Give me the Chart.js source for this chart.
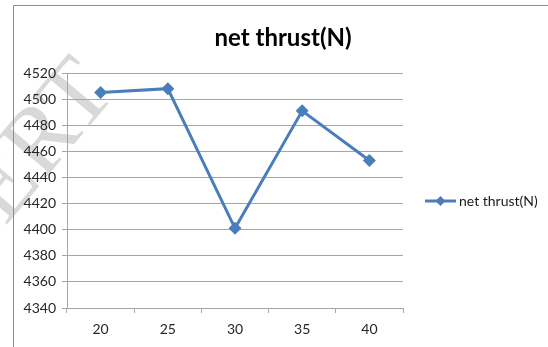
<!DOCTYPE html>
<html>
<head>
<meta charset="utf-8">
<script src="https://cdn.jsdelivr.net/npm/chart.js@4"></script>
<style>
  html, body { margin: 0; padding: 0; background: #ffffff; }
  #wrap { width: 548px; height: 347px; position: relative; }
</style>
</head>
<body>
<div id="wrap"><canvas id="chart" width="548" height="347"></canvas></div>
<script>
// Net thrust against the swept parameter
const categories = ['20', '25', '30', '35', '40'];
const netThrust = [4505, 4508, 4401, 4491, 4453];
const seriesName = 'net thrust(N)';
const chartTitle = 'net thrust(N)';
const yMin = 4340, yMax = 4520, yStep = 20;

const BLUE = '#4a7ebb';
const GRID = '#a6a6a6';
const FONT = 'Lato, "Open Sans", sans-serif';

// Frame, watermark, title and legend drawn around the plot
const decorations = {
  id: 'decorations',
  beforeDraw(chart) {
    const ctx = chart.ctx;
    ctx.save();
    ctx.fillStyle = '#ffffff';
    ctx.fillRect(0, 0, chart.width, chart.height);
    // faint diagonal watermark
    ctx.translate(118, 92);
    ctx.rotate(-50 * Math.PI / 180);
    ctx.font = '96px "Liberation Serif", "DejaVu Serif", serif';
    ctx.fillStyle = '#d9d9d9';
    ctx.textAlign = 'right';
    ctx.textBaseline = 'alphabetic';
    ctx.fillText('IJERT', 0, 0);
    ctx.restore();

    ctx.save();
    ctx.strokeStyle = '#8c8c8c';
    ctx.lineWidth = 1;
    ctx.beginPath();
    ctx.moveTo(13.5, chart.height);
    ctx.lineTo(13.5, 5.5);
    ctx.lineTo(chart.width, 5.5);
    ctx.stroke();
    ctx.restore();
  },
  afterDraw(chart) {
    const ctx = chart.ctx;
    ctx.save();
    // title
    ctx.font = 'bold 24px ' + FONT;
    ctx.fillStyle = '#000000';
    ctx.textAlign = 'center';
    ctx.textBaseline = 'middle';
    ctx.fillText(chartTitle, 283, 38);
    // legend entry: line with diamond marker
    const ly = 201;
    ctx.strokeStyle = BLUE;
    ctx.lineWidth = 3;
    ctx.beginPath();
    ctx.moveTo(425, ly);
    ctx.lineTo(456, ly);
    ctx.stroke();
    ctx.fillStyle = BLUE;
    ctx.beginPath();
    ctx.moveTo(440.5, ly - 5);
    ctx.lineTo(445.5, ly);
    ctx.lineTo(440.5, ly + 5);
    ctx.lineTo(435.5, ly);
    ctx.closePath();
    ctx.fill();
    ctx.font = '14px ' + FONT;
    ctx.fillStyle = '#1a1a1a';
    ctx.textAlign = 'left';
    ctx.textBaseline = 'middle';
    ctx.fillText(seriesName, 459, ly);
    ctx.restore();
  }
};

new Chart(document.getElementById('chart'), {
  type: 'line',
  data: {
    labels: categories,
    datasets: [{
      label: seriesName,
      data: netThrust,
      borderColor: BLUE,
      backgroundColor: BLUE,
      borderWidth: 3,
      pointStyle: 'rectRot',
      pointRadius: 6.5,
      pointHoverRadius: 6.5,
      pointBorderWidth: 0,
      tension: 0
    }]
  },
  options: {
    responsive: false,
    animation: false,
    events: [],
    layout: { padding: { top: 73, right: 145, left: 0, bottom: 0 } },
    plugins: {
      legend: { display: false },
      title: { display: false },
      tooltip: { enabled: false }
    },
    scales: {
      x: {
        type: 'category',
        offset: true,
        grid: {
          offset: true,
          drawOnChartArea: false,
          drawTicks: true,
          tickLength: 5,
          color: GRID
        },
        border: { color: GRID, width: 1 },
        ticks: {
          color: '#262626',
          font: { family: FONT, size: 14 },
          padding: 8,
          maxRotation: 0
        },
        afterFit(scale) { scale.height = 39; }
      },
      y: {
        min: yMin,
        max: yMax,
        grid: {
          color: GRID,
          tickLength: 5,
          drawTicks: true
        },
        border: { color: GRID, width: 1 },
        ticks: {
          stepSize: yStep,
          color: '#262626',
          font: { family: FONT, size: 14 },
          padding: 6,
          callback: (v) => String(v)
        },
        afterFit(scale) { scale.width = 67; }
      }
    }
  },
  plugins: [decorations]
});
</script>
</body>
</html>
